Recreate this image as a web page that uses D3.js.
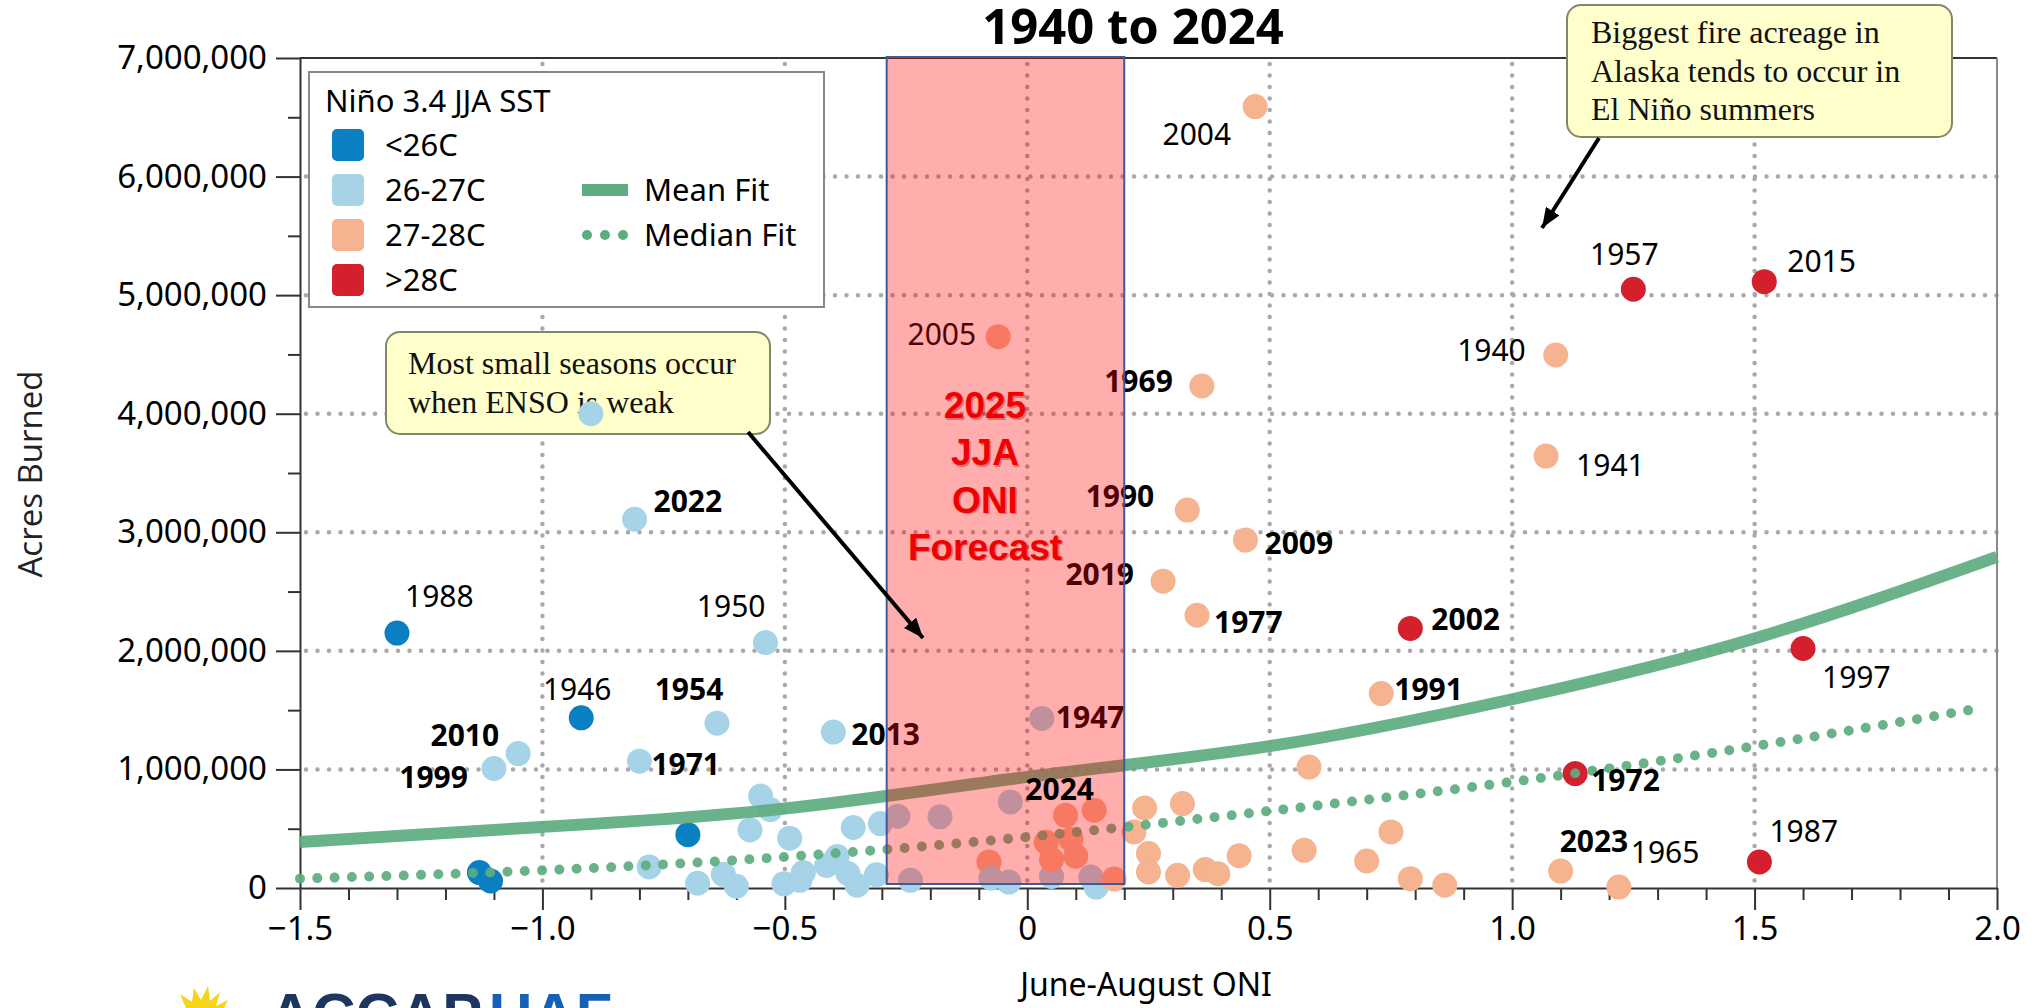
<!DOCTYPE html>
<html>
<head>
<meta charset="utf-8">
<script src="https://cdn.jsdelivr.net/npm/d3@7"></script>
<style>
  body { margin: 0; background: #fff; }
  svg { display: block; }
</style>
</head>
<body>
<svg id="chart"></svg>
<script>
// ---- data ----
const sstBins = ["<26C", "26-27C", "27-28C", ">28C"];
const binColors = ["#0a7fc1", "#a6d3e8", "#f5b38f", "#d41f2c"];

// June-August ONI, acres burned, SST bin index, year label ("" = unlabeled)
const oni = [
  -1.30, -0.81, -0.54, -0.90, -0.92, -0.64, -1.05, -1.10, -0.80, -0.40,
   0.03, -0.035, -0.06, 0.36, 0.33, 0.45, 0.28, 0.35, 0.79, 0.73,
   1.13, 1.10, 1.22, 1.51, 1.60, 1.52, 1.25, 0.47, 1.09, 1.07,
  -1.13, -1.107, -0.70, -0.78, -0.68, -0.627, -0.60, -0.572, -0.55, -0.53,
  -0.49, -0.502, -0.469, -0.462, -0.414, -0.392, -0.37, -0.359, -0.351, -0.311,
  -0.303, -0.267, -0.241, -0.18, -0.079, -0.075, -0.038, 0.05, 0.039, 0.05,
   0.079, 0.09, 0.10, 0.138, 0.131, 0.142, 0.179, 0.22, 0.242, 0.32,
   0.25, 0.25, 0.31, 0.367, 0.393, 0.437, 0.581, 0.571, 0.70, 0.75,
   0.79, 0.861
];
const acres = [
  2150000, 3110000, 2070000, 4000000, 1435000, 1390000, 1134000, 1008000, 1070000, 1315000,
  1430000, 725000, 4650000, 4234000, 3187000, 2934000, 2588000, 2300000, 2189000, 1640000,
  965000, 143000, 8000, 220000, 2020000, 5114000, 5050000, 6590000, 4495000, 3643000,
  130000, 59000, 450000, 177000, 40000, 115000, 15000, 490000, 775000, 660000,
  420000, 35000, 65000, 130000, 190000, 265000, 122000, 510000, 23000, 112000,
  543000, 605000, 65000, 600000, 220000, 82000, 50000, 98000, 385000, 240000,
  613000, 410000, 268000, 656000, 93000, 8000, 75000, 472000, 675000, 712000,
  290000, 135000, 107000, 155000, 120000, 272000, 1020000, 318000, 228000, 473000,
  79000, 23000
];
const sst = [
  0, 1, 1, 1, 0, 1, 1, 1, 1, 1,
  1, 1, 2, 2, 2, 2, 2, 2, 3, 2,
  3, 2, 2, 3, 3, 3, 3, 2, 2, 2,
  0, 0, 0, 1, 1, 1, 1, 1, 1, 1,
  1, 1, 1, 1, 1, 1, 1, 1, 1, 1,
  1, 1, 1, 1, 2, 1, 1, 1, 2, 2,
  2, 2, 2, 2, 1, 1, 2, 2, 2, 2,
  2, 2, 2, 2, 2, 2, 2, 2, 2, 2,
  2, 2
];
const years = [
  "1988", "2022", "1950", "", "1946", "1954", "2010", "1999", "1971", "2013",
  "1947", "2024", "2005", "1969", "1990", "2009", "2019", "1977", "2002", "1991",
  "1972", "2023", "1965", "1987", "1997", "2015", "1957", "2004", "1940", "1941"
];
const boldYears = ["2022", "1954", "2010", "1999", "1971", "2013", "1947", "2024", "1969",
  "1990", "2009", "2019", "1977", "2002", "1991", "1972", "2023"];

// fitted curves
const fitOni = [-1.5, -1.0, -0.5, 0, 0.5, 1.0, 1.5, 2.0];
const meanFit = [388000, 515000, 670000, 937000, 1196000, 1592000, 2105000, 2793000];
const medianOni = [-1.5, -1.0, -0.5, 0, 0.5, 1.0, 1.5, 1.97];
const medianFit = [79000, 149000, 262000, 430000, 650000, 895000, 1196000, 1519000];

const forecastRange = [-0.29, 0.2];
const forecastText = ["2025", "JJA", "ONI", "Forecast"];

const xTicks = [-1.5, -1.0, -0.5, 0, 0.5, 1.0, 1.5, 2.0];
const yTicks = [0, 1000000, 2000000, 3000000, 4000000, 5000000, 6000000, 7000000];

// label placement relative to its point: [dx, dy, anchor]
const labelPos = {
  "1988": [8, -26, "start"], "2022": [19, -7, "start"], "1950": [0, -26, "end"],
  "1946": [-4, -18, "middle"], "1954": [-28, -23, "middle"], "2010": [-19, -8, "end"],
  "1999": [-26, 20, "end"], "1971": [12, 14, "start"], "2013": [18, 13, "start"],
  "1947": [14, 10, "start"], "2024": [15, -2, "start"], "2005": [-22, 8, "end"],
  "1969": [-29, 6, "end"], "1990": [-33, -3, "end"], "2009": [19, 14, "start"],
  "2019": [-29, 4, "end"], "1977": [17, 18, "start"], "2002": [21, 2, "start"],
  "1991": [13, 6, "start"], "1972": [16, 17, "start"], "2023": [-1, -19, "start"],
  "1965": [12, -24, "start"], "1987": [10, -20, "start"], "1997": [19, 40, "start"],
  "2015": [23, -10, "start"], "1957": [-9, -24, "middle"], "2004": [-24, 38, "end"],
  "1940": [-30, 6, "end"], "1941": [30, 20, "start"]
};

// ---- drawing ----
const W = 2036, H = 1008;
const sans = "'Noto Sans', 'Open Sans', sans-serif";
const serif = "'Liberation Serif', 'DejaVu Serif', serif";
const green = "#5dac80";

const svg = d3.select("#chart").attr("width", W).attr("height", H);

const x = d3.scaleLinear().domain([-1.5, 2]).range([300, 1997]);
const y = d3.scaleLinear().domain([0, 7000000]).range([888, 58]);

const defs = svg.append("defs");
defs.append("marker")
    .attr("id", "arrow")
    .attr("viewBox", "0 0 20 16")
    .attr("refX", 20).attr("refY", 8)
    .attr("markerWidth", 20).attr("markerHeight", 16)
    .attr("markerUnits", "userSpaceOnUse")
    .attr("orient", "auto")
  .append("path")
    .attr("d", "M0,0 L20,8 L0,16 Z")
    .attr("fill", "#000");

// grid
const grid = svg.append("g")
    .attr("stroke", "#a9a9a9")
    .attr("stroke-width", 4.5)
    .attr("stroke-dasharray", "0 11.5")
    .attr("stroke-linecap", "round");
grid.selectAll(".h")
    .data(yTicks.filter(d => d > 0 && d < 7000000))
    .join("line")
    .attr("x1", x(-1.5) + 6).attr("x2", x(2))
    .attr("y1", d => y(d)).attr("y2", d => y(d));
grid.selectAll(".v")
    .data(xTicks.filter(d => d > -1.5 && d < 2))
    .join("line")
    .attr("x1", d => x(d)).attr("x2", d => x(d))
    .attr("y1", y(7000000) + 6).attr("y2", y(0));

// frame (top and right)
svg.append("line")
    .attr("x1", x(-1.5)).attr("x2", x(2))
    .attr("y1", y(7000000)).attr("y2", y(7000000))
    .attr("stroke", "#333").attr("stroke-width", 2);
svg.append("line")
    .attr("x1", x(2)).attr("x2", x(2))
    .attr("y1", y(7000000)).attr("y2", y(0))
    .attr("stroke", "#888").attr("stroke-width", 2);

// axes
const gy = svg.append("g")
    .attr("transform", `translate(${x(-1.5)},0)`)
    .call(d3.axisLeft(y).tickValues(yTicks).tickSize(24).tickSizeOuter(0)
        .tickPadding(9).tickFormat(d3.format(",")));
gy.selectAll("text").attr("font-family", sans).attr("font-size", 33).attr("fill", "#000");
gy.selectAll("line, path").attr("stroke", "#333").attr("stroke-width", 2);

svg.append("g")
    .attr("transform", `translate(${x(-1.5)},0)`)
    .call(d3.axisLeft(y).tickValues(yTicks.slice(0, -1).map(d => d + 500000))
        .tickSize(12).tickFormat(""))
    .call(g => g.select(".domain").remove())
    .selectAll("line").attr("stroke", "#333").attr("stroke-width", 2);

const gx = svg.append("g")
    .attr("transform", `translate(0,${y(0)})`)
    .call(d3.axisBottom(x).tickValues(xTicks).tickSize(22).tickSizeOuter(0)
        .tickPadding(7).tickFormat(d => d === 0 ? "0" : d3.format(".1f")(d)));
gx.selectAll("text").attr("font-family", sans).attr("font-size", 33).attr("fill", "#000");
gx.selectAll("line, path").attr("stroke", "#333").attr("stroke-width", 2);

const minorX = d3.range(-15, 20).map(i => i / 10).filter(v => Math.round(v * 10) % 5 !== 0);
svg.append("g")
    .attr("transform", `translate(0,${y(0)})`)
    .call(d3.axisBottom(x).tickValues(minorX).tickSize(12).tickFormat(""))
    .call(g => g.select(".domain").remove())
    .selectAll("line").attr("stroke", "#333").attr("stroke-width", 2);

// axis titles
svg.append("text")
    .attr("transform", `translate(42,474) rotate(-90)`)
    .attr("text-anchor", "middle")
    .attr("font-family", "'Open Sans', sans-serif")
    .attr("font-size", 33)
    .attr("fill", "#222")
    .text("Acres Burned");
svg.append("text")
    .attr("x", 1146).attr("y", 996)
    .attr("text-anchor", "middle")
    .attr("font-family", sans)
    .attr("font-size", 32)
    .attr("fill", "#000")
    .text("June-August ONI");

svg.append("text")
    .attr("x", 1133).attr("y", 44)
    .attr("text-anchor", "middle")
    .attr("font-family", sans)
    .attr("font-weight", "bold")
    .attr("font-size", 49)
    .attr("fill", "#000")
    .text("1940 to 2024");

// legend
const lg = svg.append("g");
lg.append("rect")
    .attr("x", 309).attr("y", 72).attr("width", 515).attr("height", 235)
    .attr("fill", "#fff").attr("stroke", "#888").attr("stroke-width", 2);
lg.append("text")
    .attr("x", 325).attr("y", 112)
    .attr("font-family", sans).attr("font-size", 31).attr("fill", "#000")
    .text("Niño 3.4 JJA SST");
const rows = lg.selectAll(".row").data(sstBins).join("g")
    .attr("transform", (d, i) => `translate(0,${145 + i * 45})`);
rows.append("rect")
    .attr("x", 332).attr("y", -16).attr("width", 32).attr("height", 32)
    .attr("rx", 5)
    .attr("fill", (d, i) => binColors[i]);
rows.append("text")
    .attr("x", 385).attr("y", 11)
    .attr("font-family", sans).attr("font-size", 31).attr("fill", "#000")
    .text(d => d);
lg.append("line")
    .attr("x1", 582).attr("x2", 628).attr("y1", 190).attr("y2", 190)
    .attr("stroke", green).attr("stroke-width", 12);
lg.append("line")
    .attr("x1", 587).attr("x2", 624).attr("y1", 235).attr("y2", 235)
    .attr("stroke", green).attr("stroke-width", 10)
    .attr("stroke-linecap", "round").attr("stroke-dasharray", "0 18");
lg.append("text")
    .attr("x", 644).attr("y", 201)
    .attr("font-family", sans).attr("font-size", 31).attr("fill", "#000")
    .text("Mean Fit");
lg.append("text")
    .attr("x", 644).attr("y", 246)
    .attr("font-family", sans).attr("font-size", 31).attr("fill", "#000")
    .text("Median Fit");

// callouts
function callout(bx, by, bw, bh, lines, tx, ty) {
  const g = svg.append("g");
  g.append("rect")
      .attr("x", bx).attr("y", by).attr("width", bw).attr("height", bh)
      .attr("rx", 14)
      .attr("fill", "#ffffcc").attr("stroke", "#85856a").attr("stroke-width", 2);
  g.selectAll("text").data(lines).join("text")
      .attr("x", tx).attr("y", (d, i) => ty + i * 38.7)
      .attr("font-family", serif).attr("font-size", 32).attr("fill", "#111")
      .text(d => d);
}
callout(1567, 5, 385, 132,
  ["Biggest fire acreage in", "Alaska tends to occur in", "El Niño summers"], 1591, 43);
callout(386, 332, 384, 102,
  ["Most small seasons occur", "when ENSO is weak"], 408, 374);

// points
const pts = d3.range(oni.length).map(i => ({
  oni: oni[i], acres: acres[i], bin: sst[i], year: years[i] || ""
}));

svg.append("g").selectAll("circle")
    .data(pts)
    .join("circle")
    .attr("cx", d => x(d.oni))
    .attr("cy", d => y(d.acres))
    .attr("r", 12.5)
    .attr("fill", d => binColors[d.bin]);

// fits
const line = d3.line().x(d => x(d[0])).y(d => y(d[1])).curve(d3.curveNatural);
svg.append("path")
    .datum(d3.zip(fitOni, meanFit))
    .attr("d", line)
    .attr("fill", "none")
    .attr("stroke", green).attr("stroke-width", 12).attr("opacity", 0.92);
svg.append("path")
    .datum(d3.zip(medianOni, medianFit))
    .attr("d", line)
    .attr("fill", "none")
    .attr("stroke", green).attr("stroke-width", 10)
    .attr("stroke-linecap", "round").attr("stroke-dasharray", "0 17.3")
    .attr("opacity", 0.92);

// year labels
const labelled = pts.filter(d => d.year);
const drawLabel = (sel) => sel
    .attr("x", d => x(d.oni) + labelPos[d.year][0])
    .attr("y", d => y(d.acres) + labelPos[d.year][1])
    .attr("text-anchor", d => labelPos[d.year][2])
    .attr("font-family", sans)
    .attr("font-size", 30)
    .attr("font-weight", d => boldYears.includes(d.year) ? "bold" : "normal")
    .attr("fill", "#000")
    .text(d => d.year);

svg.append("g").selectAll("text")
    .data(labelled.filter(d => d.year !== "2024"))
    .join("text")
    .call(drawLabel);

// forecast band (translucent, on top)
svg.append("rect")
    .attr("x", x(forecastRange[0])).attr("y", y(7000000) - 1)
    .attr("width", x(forecastRange[1]) - x(forecastRange[0]))
    .attr("height", y(0) - 4 - (y(7000000) - 1))
    .attr("fill", "rgb(255,0,0)").attr("fill-opacity", 0.32)
    .attr("stroke", "#3d5a9a").attr("stroke-width", 2);

svg.append("g").selectAll("text")
    .data(labelled.filter(d => d.year === "2024"))
    .join("text")
    .call(drawLabel);

const fc = svg.append("g")
    .attr("font-family", "'Liberation Sans', Arial, sans-serif")
    .attr("font-weight", "bold").attr("font-size", 37)
    .attr("text-anchor", "middle");
fc.selectAll(".sh").data(forecastText).join("text")
    .attr("x", 986.5).attr("y", (d, i) => 419.5 + i * 47.3)
    .attr("fill", "#900").attr("opacity", 0.35)
    .text(d => d);
fc.selectAll(".tx").data(forecastText).join("text")
    .attr("x", 985).attr("y", (d, i) => 418 + i * 47.3)
    .attr("fill", "#f00000")
    .text(d => d);

// arrows
function arrow(x1, y1, x2, y2) {
  svg.append("line")
      .attr("x1", x1).attr("y1", y1).attr("x2", x2).attr("y2", y2)
      .attr("stroke", "#000").attr("stroke-width", 4)
      .attr("marker-end", "url(#arrow)");
}
arrow(1599, 138, 1542, 228);
arrow(748, 432, 923, 638);

// logo strip at the bottom (cut off by the page edge)
const logo = svg.append("g");
logo.append("path")
    .attr("d", "M186,1008 L180,994 L192,1002 L194,988 L201,1000 L208,986 L210,1001 L220,992 L216,1006 L228,1000 L224,1008 Z")
    .attr("fill", "#f7d417");
logo.append("text")
    .attr("x", 269).attr("y", 1035)
    .attr("font-family", "'Liberation Sans', Arial, sans-serif")
    .attr("font-weight", "bold").attr("font-size", 60)
    .attr("fill", "#1e3560")
    .text("ACCAP");
logo.append("text")
    .attr("x", 489).attr("y", 1035)
    .attr("font-family", "'Liberation Sans', Arial, sans-serif")
    .attr("font-weight", "bold").attr("font-size", 60)
    .attr("fill", "#1660b8")
    .text("UAF");
</script>
</body>
</html>
